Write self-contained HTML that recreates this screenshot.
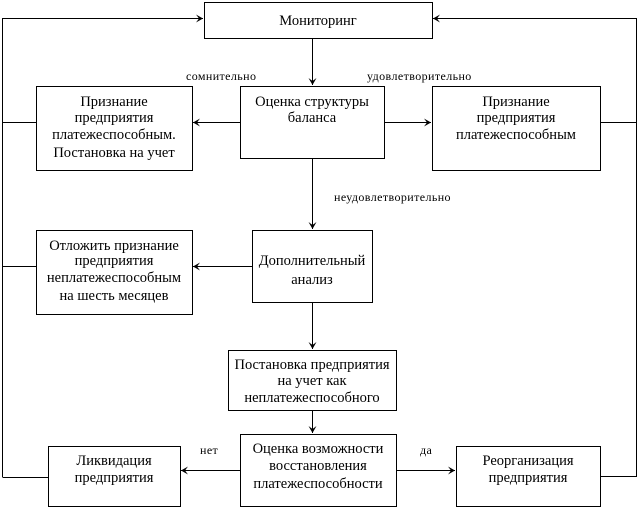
<!DOCTYPE html>
<html><head><meta charset="utf-8"><style>
body{margin:0;background:#fff;}
svg{display:block;}
.t{font-family:"Liberation Serif","DejaVu Serif",serif;font-size:14.5px;fill:#000;text-anchor:middle;}
.s{font-family:"Liberation Serif","DejaVu Serif",serif;font-size:12px;letter-spacing:0.4px;fill:#000;}
rect{fill:#fff;stroke:#000;stroke-width:1;}
line,polyline{stroke:#000;stroke-width:1;fill:none;}
</style></head><body>
<svg width="638" height="510" viewBox="0 0 638 510">
<defs><marker id="a" markerWidth="8" markerHeight="8" refX="7" refY="4" orient="auto" markerUnits="userSpaceOnUse"><path d="M0,0 L7,4 L0,8 L3,4z" fill="#000"/></marker></defs>
<polyline points="36.5,122.5 2.5,122.5 2.5,18.5 203,18.5" marker-end="url(#a)"/>
<line x1="2.5" y1="122" x2="2.5" y2="477"/>
<line x1="2.5" y1="266.5" x2="36" y2="266.5"/>
<line x1="2.5" y1="477.5" x2="48" y2="477.5"/>
<polyline points="600,122.5 636.5,122.5 636.5,18.5 433,18.5" marker-end="url(#a)"/>
<polyline points="600,476.5 636.5,476.5 636.5,122"/>
<line x1="312.5" y1="38" x2="312.5" y2="85" marker-end="url(#a)"/>
<line x1="240" y1="122.5" x2="193" y2="122.5" marker-end="url(#a)"/>
<line x1="384" y1="122.5" x2="431" y2="122.5" marker-end="url(#a)"/>
<line x1="312.5" y1="158" x2="312.5" y2="229" marker-end="url(#a)"/>
<line x1="252" y1="266.5" x2="193" y2="266.5" marker-end="url(#a)"/>
<line x1="312.5" y1="302" x2="312.5" y2="349" marker-end="url(#a)"/>
<line x1="312.5" y1="410" x2="312.5" y2="433" marker-end="url(#a)"/>
<line x1="240" y1="470.5" x2="181" y2="470.5" marker-end="url(#a)"/>
<line x1="396" y1="470.5" x2="455" y2="470.5" marker-end="url(#a)"/>
<rect x="204.5" y="2.5" width="228" height="36"/>
<text class="t" x="318" y="25">Мониторинг</text>
<rect x="36.5" y="86.5" width="156" height="84"/>
<text class="t" x="114" y="106">Признание</text>
<text class="t" x="114" y="122">предприятия</text>
<text class="t" x="114" y="139">платежеспособным.</text>
<text class="t" x="114" y="157">Постановка на учет</text>
<rect x="240.5" y="86.5" width="144" height="72"/>
<text class="t" x="312" y="106">Оценка структуры</text>
<text class="t" x="312" y="122">баланса</text>
<rect x="432.5" y="86.5" width="168" height="84"/>
<text class="t" x="516" y="106">Признание</text>
<text class="t" x="516" y="122">предприятия</text>
<text class="t" x="516" y="139">платежеспособным</text>
<text class="s" x="186" y="80">сомнительно</text>
<text class="s" x="367" y="80">удовлетворительно</text>
<text class="s" x="334" y="201">неудовлетворительно</text>
<rect x="36.5" y="230.5" width="156" height="84"/>
<text class="t" x="114" y="250">Отложить признание</text>
<text class="t" x="114" y="265">предприятия</text>
<text class="t" x="114" y="282">неплатежеспособным</text>
<text class="t" x="114" y="300">на шесть месяцев</text>
<rect x="252.5" y="230.5" width="120" height="72"/>
<text class="t" x="312" y="265">Дополнительный</text>
<text class="t" x="312" y="284">анализ</text>
<rect x="228.5" y="350.5" width="168" height="60"/>
<text class="t" x="312" y="369">Постановка предприятия</text>
<text class="t" x="312" y="385">на учет как</text>
<text class="t" x="312" y="402">неплатежеспособного</text>
<rect x="48.5" y="446.5" width="132" height="60"/>
<text class="t" x="114" y="465">Ликвидация</text>
<text class="t" x="114" y="482">предприятия</text>
<rect x="240.5" y="434.5" width="156" height="72"/>
<text class="t" x="318" y="453">Оценка возможности</text>
<text class="t" x="318" y="470">восстановления</text>
<text class="t" x="318" y="488">платежеспособности</text>
<rect x="456.5" y="446.5" width="144" height="60"/>
<text class="t" x="528" y="465">Реорганизация</text>
<text class="t" x="528" y="482">предприятия</text>
<text class="s" x="200" y="454">нет</text>
<text class="s" x="420" y="454">да</text>
</svg>
</body></html>
